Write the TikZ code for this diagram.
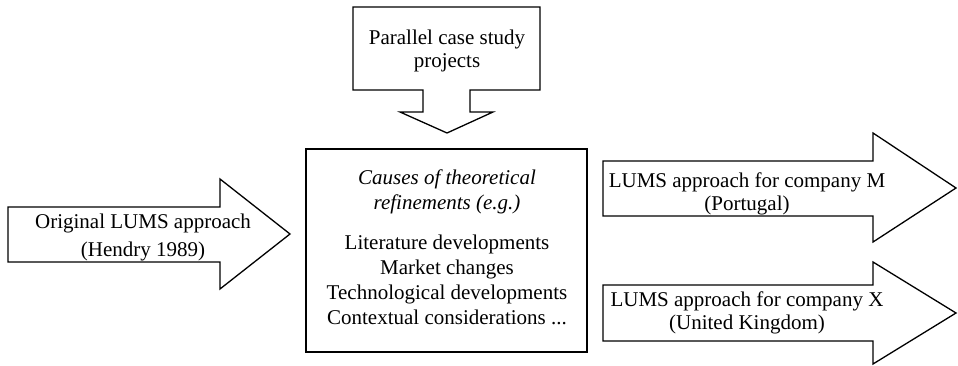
\documentclass[tikz,border=0pt]{standalone}
\usepackage{fontspec}
\setmainfont{Liberation Serif}
\begin{document}
\begin{tikzpicture}[x=1pt,y=-1pt,
  shapeline/.style={draw=black,line width=1.3pt,line join=miter,fill=white},
  lbl/.style={align=center,inner sep=0pt,font=\fontsize{21}{23}\selectfont}]
\useasboundingbox (0,0) rectangle (958,366);
% left arrow
\draw[shapeline] (8,207) -- (220,207) -- (220,179) -- (290,234) -- (220,289) -- (220,262) -- (8,262) -- cycle;
% top down arrow callout
\draw[shapeline] (353,7) -- (540,7) -- (540,90) -- (470,90) -- (470,112) -- (493,112) -- (447,133) -- (400,112) -- (423,112) -- (423,90) -- (353,90) -- cycle;
% centre box
\draw[shapeline] (306,149) rectangle (587,352);
% right arrows
\draw[shapeline] (603,161) -- (873,161) -- (873,133) -- (956,188) -- (873,242) -- (873,216) -- (603,216) -- cycle;
\draw[shapeline] (603,285) -- (873,285) -- (873,262) -- (956,313) -- (873,364) -- (873,341) -- (603,341) -- cycle;
% labels
\node[lbl,font=\fontsize{21}{28}\selectfont] (orig) at (143,237) {Original LUMS approach\\(Hendry 1989)};
\node[lbl] (par) at (447,51) {Parallel case study\\projects};
\node[lbl,font=\fontsize{21}{25}\selectfont\itshape] (causes) at (447,192) {Causes of theoretical\\refinements (e.g.)};
\node[lbl,font=\fontsize{21}{25}\selectfont] (list) at (447,280) {Literature developments\\Market changes\\Technological developments\\Contextual considerations ...};
\node[lbl] (m) at (747,194) {LUMS approach for company M\\(Portugal)};
\node[lbl] (x) at (747,313) {LUMS approach for company X\\(United Kingdom)};
\end{tikzpicture}
\end{document}
